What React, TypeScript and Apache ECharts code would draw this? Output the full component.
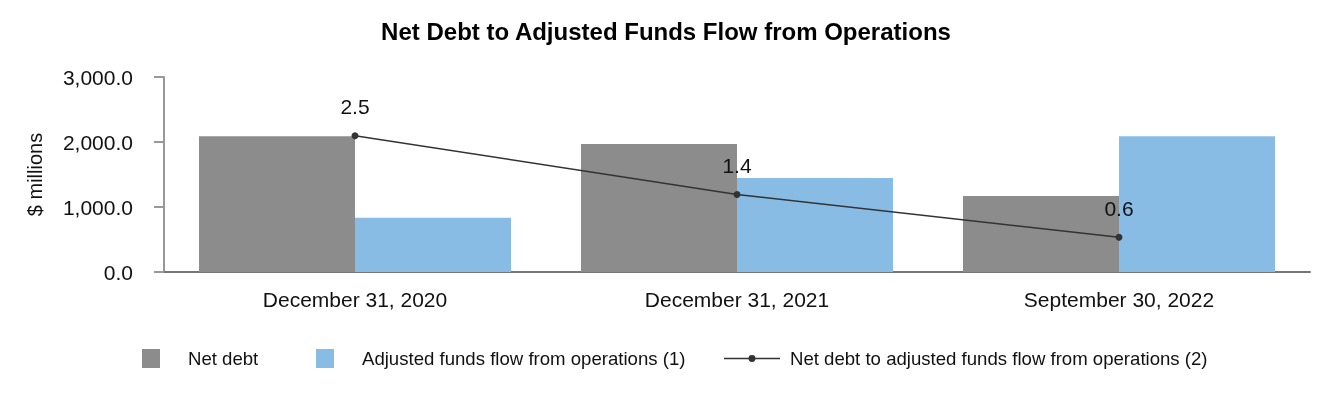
import React, { useEffect, useRef } from "react";
import * as echarts from "echarts";

const categories = ["December 31, 2020", "December 31, 2021", "September 30, 2022"];
const netDebt = [2090, 1968, 1170];
const adjFundsFlow = [833, 1446, 2090];
const ratio = [2.5, 1.4, 0.6];
const seriesNames = [
  "Net debt",
  "Adjusted funds flow from operations (1)",
  "Net debt to adjusted funds flow from operations (2)",
];

const FONT = "Liberation Sans, Arial, sans-serif";
const LINE_ICON =
  "path://M0,2.75H56V4.25H0Z M24.5,3.5A3.5,3.5,0,1,1,31.5,3.5A3.5,3.5,0,1,1,24.5,3.5Z";

export default function App() {
  const ref = useRef<HTMLDivElement>(null);
  useEffect(() => {
    if (!ref.current) return;
    const chart = echarts.init(ref.current, null, { renderer: "svg" });
    const fmt = (v: number) =>
      v.toLocaleString("en-US", { minimumFractionDigits: 1, maximumFractionDigits: 1 });
    const legendBase = {
      top: 349,
      padding: 0,
      itemHeight: 19,
      itemWidth: 18,
      icon: "rect",
      textStyle: { fontFamily: FONT, fontSize: 18.6, color: "#111", padding: [0, 0, 0, 23] },
      selectedMode: false,
    };
    chart.setOption({
      animation: false,
      textStyle: { fontFamily: FONT },
      title: {
        text: "Net Debt to Adjusted Funds Flow from Operations",
        left: "center",
        top: 14,
        textStyle: { fontFamily: FONT, fontSize: 24, fontWeight: "bold", color: "#000" },
      },
      legend: [
        { ...legendBase, left: 142, data: [seriesNames[0]] },
        { ...legendBase, left: 316, data: [seriesNames[1]] },
        {
          ...legendBase,
          icon: LINE_ICON,
          left: 724,
          top: 349,
          itemWidth: 56,
          itemHeight: 7,
          itemStyle: { color: "#333", borderWidth: 0 },
          textStyle: { ...legendBase.textStyle, padding: [0, 0, 0, 5] },
          data: [seriesNames[2]],
        },
      ],
      grid: { left: 164, right: 22, top: 77, bottom: 128 },
      xAxis: {
        type: "category",
        data: categories,
        axisLine: { lineStyle: { color: "#777", width: 2 } },
        axisTick: { alignWithLabel: true, length: 11, lineStyle: { color: "#999" } },
        axisLabel: { fontFamily: FONT, fontSize: 21, color: "#111", margin: 17 },
      },
      yAxis: [
        {
          type: "value",
          min: 0,
          max: 3000,
          interval: 1000,
          name: "$ millions",
          nameLocation: "middle",
          nameRotate: 90,
          nameGap: 119,
          nameTextStyle: { fontFamily: FONT, fontSize: 20, color: "#111" },
          axisLine: { show: true, lineStyle: { color: "#999", width: 2 } },
          axisTick: { show: true, length: 10, lineStyle: { color: "#999", width: 2 } },
          axisLabel: { fontFamily: FONT, fontSize: 21, color: "#111", margin: 31, formatter: fmt },
          splitLine: { show: false },
        },
        {
          type: "value",
          min: -0.05,
          max: 3.6,
          show: false,
          splitLine: { show: false },
        },
      ],
      series: [
        {
          name: seriesNames[0],
          type: "bar",
          data: netDebt,
          barWidth: 156,
          barGap: "0%",
          itemStyle: { color: "#8C8C8C" },
        },
        {
          name: seriesNames[1],
          type: "bar",
          data: adjFundsFlow,
          barWidth: 156,
          barGap: "0%",
          itemStyle: { color: "#88BCE5" },
        },
        {
          name: seriesNames[2],
          type: "line",
          yAxisIndex: 1,
          data: ratio,
          symbol: "circle",
          symbolSize: 7,
          itemStyle: { color: "#333" },
          lineStyle: { color: "#333", width: 1.5 },
          z: 5,
          label: {
            show: true,
            position: "top",
            distance: 15,
            fontFamily: FONT,
            fontSize: 21,
            color: "#111",
            formatter: (p: any) => Number(p.value).toFixed(1),
          },
        },
      ],
    });
    return () => chart.dispose();
  }, []);
  return (
    <div
      ref={ref}
      style={{ position: "fixed", left: 0, top: 0, width: 1332, height: 400 }}
    />
  );
}
